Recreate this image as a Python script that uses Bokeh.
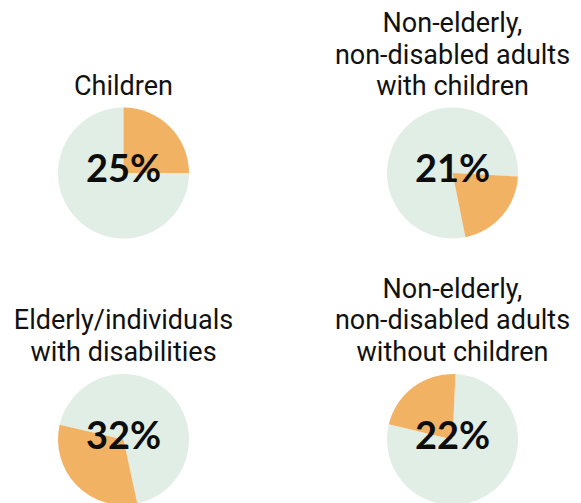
import math
from bokeh.plotting import figure
from bokeh.models import Range1d, ColumnDataSource
from bokeh.core.properties import value
from bokeh.embed import file_html
from bokeh.resources import INLINE

# ---- data ----
groups = ["Children",
          "Non-elderly, non-disabled adults with children",
          "Elderly/individuals with disabilities",
          "Non-elderly, non-disabled adults without children"]
title_lines = [["Children"],
               ["Non-elderly,", "non-disabled adults", "with children"],
               ["Elderly/individuals", "with disabilities"],
               ["Non-elderly,", "non-disabled adults", "without children"]]
shares = [25, 21, 32, 22]            # percent
pie_start_deg = [0, -78.6, 167.0, 87.4]   # where the highlighted slice begins

# ---- layout (screen pixels of the page) ----
W, H = 581, 503
col_x = [123, 452]
row_y = [172.5, 439]
R = 65.5
line_gap = 31.5
last_baseline = [93.5, 359]

ORANGE = "#F1B264"
GREEN = "#E0EEE5"

p = figure(width=W, height=H, output_backend="svg", toolbar_location=None,
           x_range=Range1d(0, W), y_range=Range1d(-H, 0),
           min_border=0)
p.axis.visible = False
p.grid.visible = False
p.outline_line_color = None
p.background_fill_color = "white"
p.border_fill_color = "white"

cx, cy, s_o, e_o, s_g, e_g, lbl = [], [], [], [], [], [], []
for i, share in enumerate(shares):
    x = col_x[i % 2]
    y = -row_y[i // 2]
    a0 = math.radians(pie_start_deg[i])
    a1 = a0 + 2 * math.pi * share / 100.0
    cx.append(x); cy.append(y)
    s_o.append(a0); e_o.append(a1)
    s_g.append(a1); e_g.append(a0 + 2 * math.pi)
    lbl.append(f"{share}%")

src = ColumnDataSource(dict(x=cx, y=cy, s_o=s_o, e_o=e_o, s_g=s_g, e_g=e_g, lbl=lbl))
p.wedge(x="x", y="y", radius=R, start_angle="s_g", end_angle="e_g",
        fill_color=GREEN, line_color=None, source=src)
p.wedge(x="x", y="y", radius=R, start_angle="s_o", end_angle="e_o",
        fill_color=ORANGE, line_color=None, source=src)

p.text(x="x", y="y", text="lbl", source=src, text_align="center",
       text_baseline="middle", text_font=value("Lato"), text_font_style="bold",
       text_font_size=value("38px"), text_color="#0d0d0d", y_offset=-6)

tx, ty, tt = [], [], []
for i, lines in enumerate(title_lines):
    n = len(lines)
    for j, line in enumerate(lines):
        tx.append(col_x[i % 2])
        ty.append(-(last_baseline[i // 2] - (n - 1 - j) * line_gap))
        tt.append(line)
p.text(x=tx, y=ty, text=tt, text_align="center", text_baseline="alphabetic",
       text_font=value("Roboto"), text_font_size=value("27px"), text_color="#111111",
       y_offset=-8)

open("out.html", "w").write(file_html(p, INLINE))
